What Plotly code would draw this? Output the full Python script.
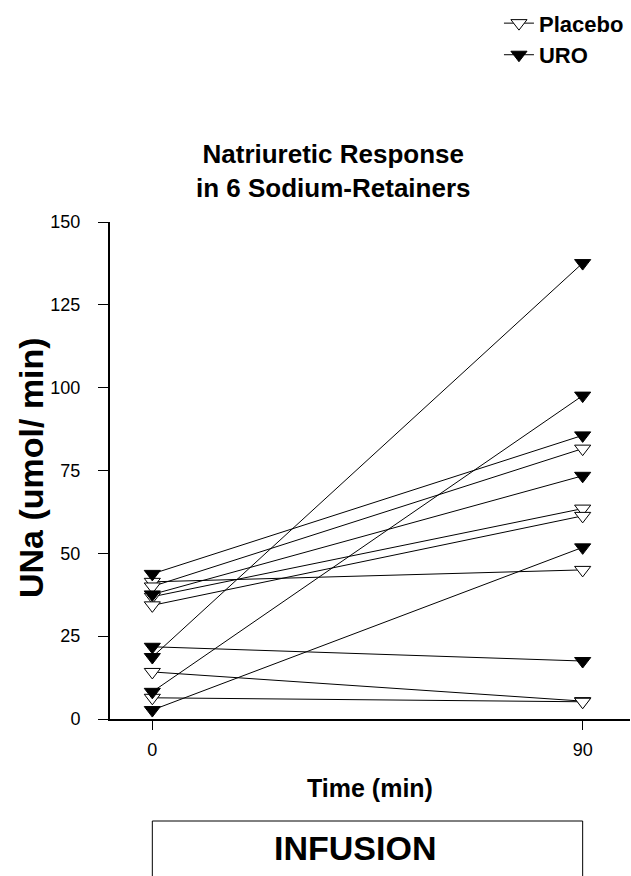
import plotly.graph_objects as go

# Urinary sodium excretion (umol/min) at start and end of infusion, per subject
times = [0, 90]
placebo_start = [41.4, 40.0, 36.9, 34.3, 14.2, 6.4]
placebo_end = [45.0, 81.6, 63.5, 61.3, 5.4, 5.2]
uro_start = [43.8, 37.6, 21.8, 18.7, 8.2, 2.7]
uro_end = [85.6, 73.4, 17.5, 137.6, 97.6, 51.8]

x_ticks = [0, 90]
y_ticks = [0, 25, 50, 75, 100, 125, 150]

FONT = "Liberation Sans, Arial, Helvetica, sans-serif"


def paired(starts, ends):
    xs, ys = [], []
    for a, b in zip(starts, ends):
        xs += [times[0], times[1], None]
        ys += [a, b, None]
    return xs, ys


fig = go.Figure()

px, py = paired(placebo_start, placebo_end)
ux, uy = paired(uro_start, uro_end)

fig.add_trace(go.Scatter(
    x=px, y=py, mode="lines+markers", name="Placebo",
    line=dict(color="black", width=1),
    marker=dict(symbol="triangle-down", size=14, color="white",
                line=dict(color="black", width=1)),
    cliponaxis=False,
))
fig.add_trace(go.Scatter(
    x=ux, y=uy, mode="lines+markers", name="URO",
    line=dict(color="black", width=1),
    marker=dict(symbol="triangle-down", size=14, color="black",
                line=dict(color="black", width=1)),
    cliponaxis=False,
))

fig.update_layout(
    width=631, height=876,
    margin=dict(l=110, r=1, t=222, b=157),
    paper_bgcolor="white", plot_bgcolor="white",
    font=dict(family=FONT, color="black"),
    showlegend=True,
    legend=dict(
        x=0.748, y=1.442, xanchor="left", yanchor="top",
        font=dict(family=FONT, size=22, color="black", weight="bold"),
        bgcolor="rgba(0,0,0,0)", itemwidth=30,
    ),
    xaxis=dict(
        range=[-8.85, 99.9], tickvals=x_ticks, ticks="outside", ticklen=9,
        tickcolor="black", showline=True, linecolor="black", linewidth=1.5,
        showgrid=False, zeroline=False, tickfont=dict(size=18),
        ticklabelstandoff=5,
    ),
    yaxis=dict(
        range=[0, 150], tickvals=y_ticks, ticks="outside", ticklen=10,
        tickcolor="black", showline=True, linecolor="black", linewidth=2,
        showgrid=False, zeroline=False, tickfont=dict(size=18),
        ticklabelstandoff=14,
    ),
    annotations=[
        dict(text="<b>Natriuretic Response<br>in 6 Sodium-Retainers</b>",
             xref="paper", yref="paper", x=(333 - 110) / 520, y=(719 - 171) / 497,
             xanchor="center", yanchor="middle", showarrow=False,
             font=dict(family=FONT, size=26)),
        dict(text="<b>UNa (umol/ min)</b>", textangle=-90,
             xref="paper", yref="paper", x=(31 - 110) / 520, y=0.505,
             xanchor="center", yanchor="middle", showarrow=False,
             font=dict(family=FONT, size=34)),
        dict(text="<b>Time (min)</b>",
             xref="paper", yref="paper", x=0.5, y=(719 - 788) / 497,
             xanchor="center", yanchor="middle", showarrow=False,
             font=dict(family=FONT, size=25)),
        dict(text="<b>INFUSION</b>",
             xref="x", yref="paper", x=42.3, y=(719 - 848) / 497,
             xanchor="center", yanchor="middle", showarrow=False,
             font=dict(family=FONT, size=34)),
    ],
    shapes=[
        dict(type="rect", xref="x", yref="paper",
             x0=0, x1=90, y0=(719 - 900) / 497, y1=(719 - 821) / 497,
             line=dict(color="black", width=1), fillcolor="rgba(0,0,0,0)"),
    ],
)

fig.write_html("out.html")
